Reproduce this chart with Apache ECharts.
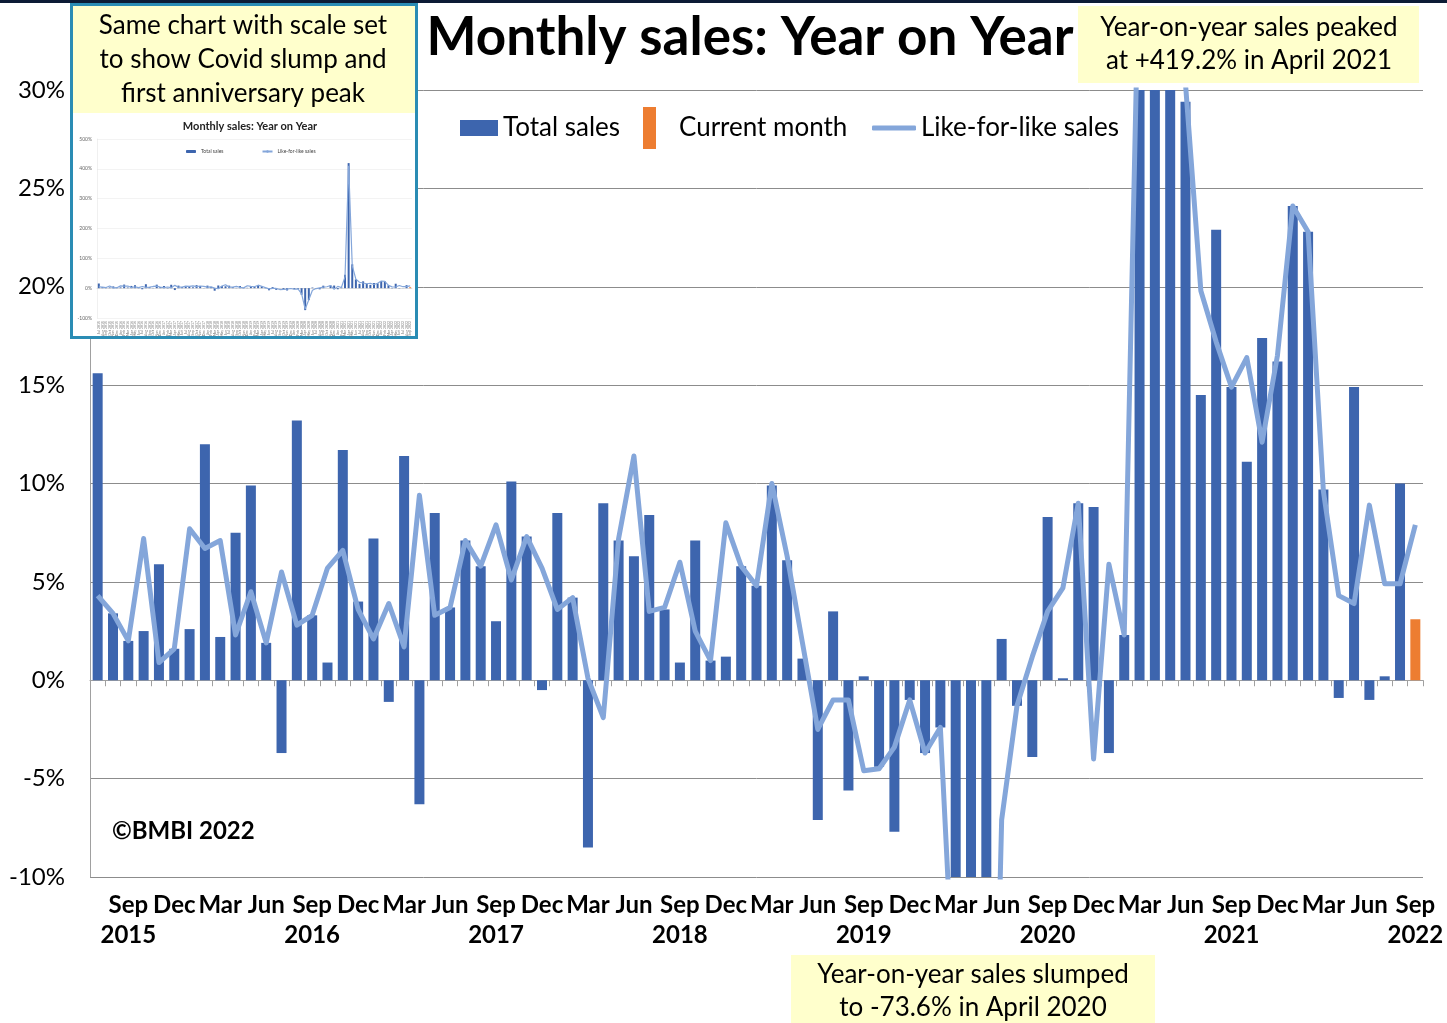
<!DOCTYPE html>
<html>
<head>
<meta charset="utf-8">
<title>Monthly sales: Year on Year</title>
<script src="https://cdn.jsdelivr.net/npm/echarts@6/dist/echarts.min.js"></script>
<style>
  html, body { margin: 0; padding: 0; background: #fff; }
  #chart { width: 1447px; height: 1023px; }
</style>
</head>
<body>
<div id="chart"></div>
<script>
// months Jul 2015 .. Sep 2022
const categories = [
  'Jul 2015', 'Aug 2015', 'Sep 2015', 'Oct 2015', 'Nov 2015', 'Dec 2015',
  'Jan 2016', 'Feb 2016', 'Mar 2016', 'Apr 2016', 'May 2016', 'Jun 2016', 'Jul 2016', 'Aug 2016', 'Sep 2016', 'Oct 2016', 'Nov 2016', 'Dec 2016',
  'Jan 2017', 'Feb 2017', 'Mar 2017', 'Apr 2017', 'May 2017', 'Jun 2017', 'Jul 2017', 'Aug 2017', 'Sep 2017', 'Oct 2017', 'Nov 2017', 'Dec 2017',
  'Jan 2018', 'Feb 2018', 'Mar 2018', 'Apr 2018', 'May 2018', 'Jun 2018', 'Jul 2018', 'Aug 2018', 'Sep 2018', 'Oct 2018', 'Nov 2018', 'Dec 2018',
  'Jan 2019', 'Feb 2019', 'Mar 2019', 'Apr 2019', 'May 2019', 'Jun 2019', 'Jul 2019', 'Aug 2019', 'Sep 2019', 'Oct 2019', 'Nov 2019', 'Dec 2019',
  'Jan 2020', 'Feb 2020', 'Mar 2020', 'Apr 2020', 'May 2020', 'Jun 2020', 'Jul 2020', 'Aug 2020', 'Sep 2020', 'Oct 2020', 'Nov 2020', 'Dec 2020',
  'Jan 2021', 'Feb 2021', 'Mar 2021', 'Apr 2021', 'May 2021', 'Jun 2021', 'Jul 2021', 'Aug 2021', 'Sep 2021', 'Oct 2021', 'Nov 2021', 'Dec 2021',
  'Jan 2022', 'Feb 2022', 'Mar 2022', 'Apr 2022', 'May 2022', 'Jun 2022', 'Jul 2022', 'Aug 2022', 'Sep 2022'
]

const totalSales = [
  15.6, 3.4, 2.0, 2.5, 5.9, 1.6,
  2.6, 12.0, 2.2, 7.5, 9.9, 1.9, -3.7, 13.2, 3.3, 0.9, 11.7, 4.0,
  7.2, -1.1, 11.4, -6.3, 8.5, 3.7, 7.1, 5.8, 3.0, 10.1, 7.3, -0.5,
  8.5, 4.2, -8.5, 9.0, 7.1, 6.3, 8.4, 3.6, 0.9, 7.1, 1.0, 1.2,
  5.8, 4.8, 9.9, 6.1, 1.1, -7.1, 3.5, -5.6, 0.2, -4.4, -7.7, -1.0,
  -3.7, -2.4, -22.0, -73.6, -40.0, 2.1, -1.3, -3.9, 8.3, 0.1, 9.0, 8.8,
  -3.7, 2.3, 45.0, 419.2, 80.0, 29.4, 14.5, 22.9, 14.9, 11.1, 17.4, 16.2,
  24.1, 22.8, 9.7, -0.9, 14.9, -1.0, 0.2, 10.0, null
]

const likeForLike = [
  4.3, 3.4, 2.0, 7.2, 0.9, 1.6,
  7.7, 6.7, 7.1, 2.3, 4.5, 1.9, 5.5, 2.8, 3.3, 5.7, 6.6, 3.6,
  2.1, 3.9, 1.7, 9.4, 3.3, 3.7, 7.1, 5.8, 7.9, 5.1, 7.3, 5.7,
  3.6, 4.2, 0.1, -1.9, 7.2, 11.4, 3.5, 3.7, 6.0, 2.5, 1.0, 8.0,
  5.8, 4.8, 10.0, 6.3, 1.9, -2.5, -1.0, -1.0, -4.6, -4.5, -3.4, -1.0,
  -3.7, -2.4, -18.0, -70.0, -39.0, -7.1, -1.3, 1.2, 3.5, 4.7, 9.0, -4.0,
  5.9, 2.3, 38.0, 410.0, 75.0, 30.3, 19.8, 17.2, 14.9, 16.4, 12.1, 16.5,
  24.1, 22.8, 9.6, 4.3, 3.9, 8.9, 4.9, 4.9, 7.9
]

const currentMonth = [['Sep 2022', 3.1]]

// months that get a label on the x axis, year shown under Sep
const tickMonths = ['Sep', 'Dec', 'Mar', 'Jun']

const FONT = 'Lato, "Noto Sans", sans-serif'
const BLUE = '#3d65ae'
const ORANGE = '#ed7d31'
const LIGHT = '#84a6da'
const YELLOW = '#ffffcc'

const chart = echarts.init(document.getElementById('chart'))

function monthLabel(value) {
  const parts = value.split(' ')
  if (tickMonths.indexOf(parts[0]) < 0) return ''
  return parts[0] === 'Sep' ? parts[0] + '\n' + parts[1] : parts[0]
}

chart.setOption({
  backgroundColor: '#fff',
  animation: false,
  textStyle: { fontFamily: FONT },
  grid: [
    { left: 90, right: 24, top: 90, bottom: 146 },
    { left: 97, top: 139, width: 315, height: 179 } // inset
  ],
  legend: [
    {
      data: ['Total sales'], left: 455, top: 110, icon: 'rect',
      itemWidth: 38, itemHeight: 16, selectedMode: false,
      textStyle: { fontSize: 26, color: '#000', fontFamily: FONT }
    },
    {
      data: ['Current month'], left: 638, top: 102, icon: 'rect',
      itemWidth: 13, itemHeight: 42, selectedMode: false,
      textStyle: { fontSize: 26, color: '#000', fontFamily: FONT, padding: [0, 0, 0, 18] }
    },
    {
      data: ['Like-for-like sales'], left: 867, top: 110, icon: 'roundRect',
      itemWidth: 44, itemHeight: 5, selectedMode: false,
      textStyle: { fontSize: 26, color: '#000', fontFamily: FONT }
    },
    {
      data: ['Total sales', 'Like-for-like sales'], left: 181, top: 144,
      itemWidth: 10, itemHeight: 3, itemGap: 38, selectedMode: false, z: 130,
      textStyle: { fontSize: 5, color: '#444', fontFamily: FONT }
    }
  ],
  xAxis: [
    {
      type: 'category', gridIndex: 0, data: categories,
      axisLine: { onZero: true, lineStyle: { color: '#a0a0a0', width: 1 } },
      axisTick: { show: true, interval: 0, length: 6, lineStyle: { color: '#a0a0a0' } },
      axisLabel: { show: false }
    },
    {
      type: 'category', gridIndex: 0, data: categories, position: 'bottom',
      axisLine: { show: false, onZero: false },
      axisTick: { show: false },
      axisLabel: {
        interval: 0,
        showMinLabel: true,
        showMaxLabel: true,
        margin: 13,
        fontSize: 24, fontWeight: 'bold', color: '#000', lineHeight: 30,
        formatter: monthLabel
      }
    },
    {
      type: 'category', gridIndex: 1, data: categories, z: 120,
      axisLine: { onZero: true, lineStyle: { color: '#c8c8c8', width: 0.5 } },
      axisTick: { show: false },
      axisLabel: { interval: 0, rotate: 90, fontSize: 3.5, color: '#777', margin: 3 }
    }
  ],
  yAxis: [
    {
      type: 'value', gridIndex: 0, min: -10, max: 30, interval: 5,
      axisLine: { show: true, lineStyle: { color: '#a0a0a0' } },
      axisTick: { show: false },
      splitLine: { lineStyle: { color: '#8c8c8c', width: 1 } },
      axisLabel: { formatter: '{value}%', fontSize: 24, color: '#000', margin: 25 }
    },
    {
      type: 'value', gridIndex: 1, min: -100, max: 500, interval: 100, z: 120,
      axisLine: { show: true, lineStyle: { color: '#e0e0e0', width: 0.5 } },
      axisTick: { show: false },
      splitLine: { lineStyle: { color: '#e6e6e6', width: 0.5 } },
      axisLabel: { formatter: '{value}%', fontSize: 5, color: '#666', margin: 5 }
    }
  ],
  series: [
    {
      name: 'Total sales', type: 'bar', xAxisIndex: 0, yAxisIndex: 0,
      data: totalSales, barWidth: 10, barGap: '-100%',
      itemStyle: { color: BLUE }
    },
    {
      name: 'Current month', type: 'bar', xAxisIndex: 0, yAxisIndex: 0,
      data: currentMonth, barWidth: 10, barGap: '-100%',
      itemStyle: { color: ORANGE }
    },
    {
      name: 'Like-for-like sales', type: 'line', xAxisIndex: 0, yAxisIndex: 0,
      data: likeForLike, symbol: 'none', z: 3,
      itemStyle: { color: LIGHT },
      lineStyle: { color: LIGHT, width: 5, join: 'round' }
    },
    // inset: same data on the full scale
    {
      name: 'Total sales', type: 'bar', xAxisIndex: 2, yAxisIndex: 1,
      data: totalSales, barWidth: 2, barGap: '-100%', z: 125,
      itemStyle: { color: BLUE }
    },
    {
      name: 'Current month', type: 'bar', xAxisIndex: 2, yAxisIndex: 1,
      data: currentMonth, barWidth: 2, barGap: '-100%', z: 125,
      itemStyle: { color: ORANGE }
    },
    {
      name: 'Like-for-like sales', type: 'line', xAxisIndex: 2, yAxisIndex: 1,
      data: likeForLike, symbol: 'none', z: 126,
      itemStyle: { color: LIGHT },
      lineStyle: { color: LIGHT, width: 1.2 }
    }
  ],
  graphic: [
    { type: 'rect', z: 200, shape: { x: 0, y: 0, width: 1447, height: 3 }, style: { fill: '#0c1b35' } },
    // inset frame
    { type: 'rect', z: 100, shape: { x: 71.5, y: 4.5, width: 345, height: 333 }, style: { fill: '#fff', stroke: '#2a8cb4', lineWidth: 3 } },
    { type: 'rect', z: 101, shape: { x: 73, y: 6, width: 342, height: 107 }, style: { fill: YELLOW } },
    {
      type: 'text', z: 102, x: 243, y: 60,
      style: {
        text: 'Same chart with scale set\nto show Covid slump and\nfirst anniversary peak',
        font: '26px ' + FONT, fill: '#000', align: 'center', verticalAlign: 'middle', lineHeight: 34
      }
    },
    {
      type: 'text', z: 102, x: 250, y: 126,
      style: { text: 'Monthly sales: Year on Year', font: 'bold 11px ' + FONT, fill: '#222', align: 'center', verticalAlign: 'middle' }
    },
    // main title
    {
      type: 'text', z: 50, x: 750, y: 38,
      style: { text: 'Monthly sales: Year on Year', font: 'bold 53px ' + FONT, fill: '#000', align: 'center', verticalAlign: 'middle' }
    },
    // peak note
    { type: 'rect', z: 50, shape: { x: 1078, y: 6, width: 341, height: 77 }, style: { fill: YELLOW } },
    {
      type: 'text', z: 51, x: 1249, y: 44,
      style: {
        text: 'Year-on-year sales peaked\nat +419.2% in April 2021',
        font: '26px ' + FONT, fill: '#000', align: 'center', verticalAlign: 'middle', lineHeight: 33
      }
    },
    // slump note
    { type: 'rect', z: 50, shape: { x: 791, y: 955, width: 364, height: 68 }, style: { fill: YELLOW } },
    {
      type: 'text', z: 51, x: 973, y: 991,
      style: {
        text: 'Year-on-year sales slumped\nto -73.6% in April 2020',
        font: '26px ' + FONT, fill: '#000', align: 'center', verticalAlign: 'middle', lineHeight: 33
      }
    },
    {
      type: 'text', z: 50, x: 112, y: 831,
      style: { text: '©BMBI 2022', font: 'bold 24px ' + FONT, fill: '#000', align: 'left', verticalAlign: 'middle' }
    }
  ]
})
</script>
</body>
</html>
